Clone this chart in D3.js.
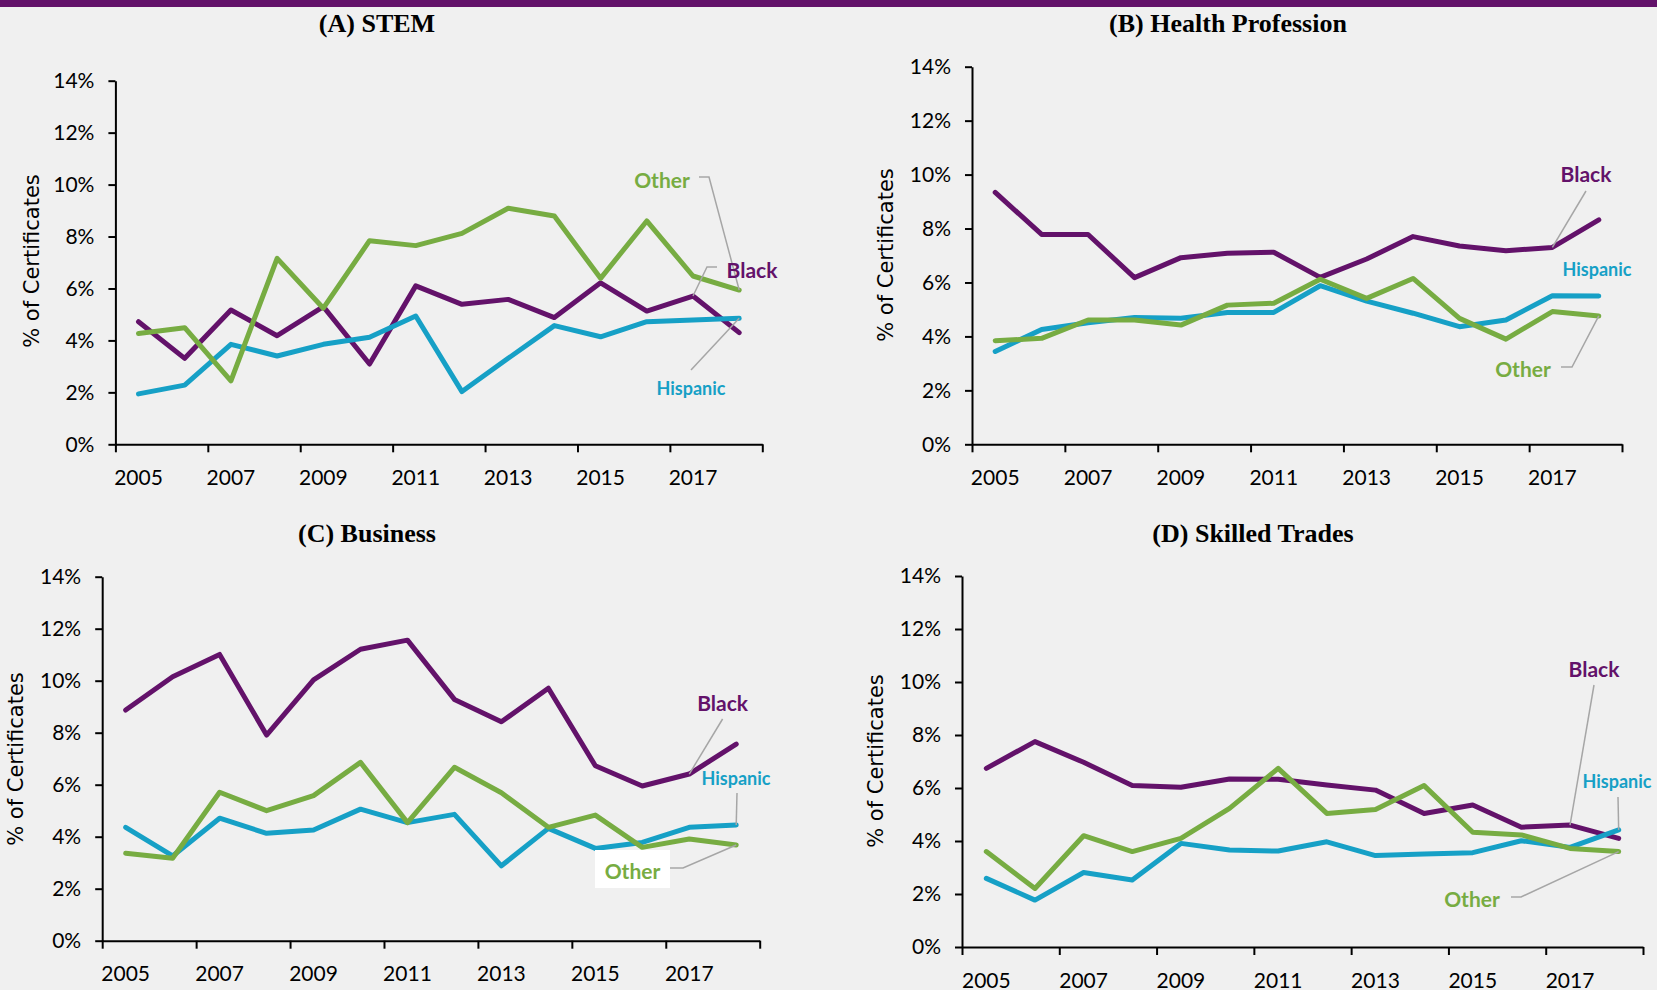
<!DOCTYPE html>
<html>
<head>
<meta charset="utf-8">
<script src="https://cdn.jsdelivr.net/npm/d3@7/dist/d3.min.js"></script>
<style>
  html, body { margin: 0; padding: 0; background: #F0F0F0; }
  svg { display: block; }
</style>
</head>
<body>
<svg id="chart" width="1657" height="990"></svg>
<script>
// ---------------- DATA ----------------
const years = [2005, 2006, 2007, 2008, 2009, 2010, 2011, 2012, 2013, 2014, 2015, 2016, 2017, 2018];
const yearLabels = [2005, 2007, 2009, 2011, 2013, 2015, 2017];
const yTicks = [0, 2, 4, 6, 8, 10, 12, 14];
const seriesNames = ["Black", "Hispanic", "Other"];
const panelTitles = ["(A) STEM", "(B) Health Profession", "(C) Business", "(D) Skilled Trades"];

const stemBlack    = [4.72, 3.31, 5.17, 4.18, 5.30, 3.09, 6.10, 5.39, 5.58, 4.88, 6.22, 5.13, 5.71, 4.30];
const stemHispanic = [1.94, 2.28, 3.85, 3.40, 3.85, 4.12, 4.94, 2.03, 3.31, 4.57, 4.14, 4.72, 4.79, 4.85];
const stemOther    = [4.27, 4.49, 2.44, 7.16, 5.24, 7.84, 7.65, 8.12, 9.09, 8.79, 6.39, 8.60, 6.48, 5.94];

const healthBlack    = [9.34, 7.78, 7.78, 6.18, 6.92, 7.08, 7.12, 6.19, 6.87, 7.70, 7.35, 7.18, 7.30, 8.32];
const healthHispanic = [3.44, 4.26, 4.51, 4.70, 4.67, 4.89, 4.89, 5.88, 5.31, 4.86, 4.36, 4.61, 5.51, 5.50];
const healthOther    = [3.84, 3.93, 4.61, 4.61, 4.42, 5.16, 5.23, 6.12, 5.41, 6.15, 4.67, 3.90, 4.92, 4.76];

const businessBlack    = [8.87, 10.15, 11.01, 7.91, 10.03, 11.21, 11.56, 9.28, 8.42, 9.71, 6.73, 5.95, 6.41, 7.56];
const businessHispanic = [4.36, 3.26, 4.71, 4.13, 4.26, 5.06, 4.54, 4.86, 2.88, 4.32, 3.55, 3.78, 4.36, 4.45];
const businessOther    = [3.36, 3.17, 5.71, 5.00, 5.58, 6.86, 4.54, 6.67, 5.69, 4.36, 4.83, 3.59, 3.91, 3.68];

const tradesBlack    = [6.74, 7.75, 6.97, 6.09, 6.03, 6.34, 6.33, 6.11, 5.92, 5.04, 5.36, 4.52, 4.60, 4.10];
const tradesHispanic = [2.59, 1.77, 2.81, 2.53, 3.91, 3.66, 3.62, 3.97, 3.45, 3.51, 3.56, 4.01, 3.76, 4.42];
const tradesOther    = [3.60, 2.21, 4.20, 3.60, 4.10, 5.23, 6.74, 5.04, 5.19, 6.09, 4.33, 4.23, 3.72, 3.60];

// ---------------- STYLE / LAYOUT ----------------
const colors = { Black: "#63126A", Hispanic: "#16A0C6", Other: "#77AC42" };
const tickFont = "Lato, 'Open Sans', sans-serif";
const labelFont = "Lato, 'Open Sans', sans-serif";

const panels = [
  { title: panelTitles[0], data: { Black: stemBlack, Hispanic: stemHispanic, Other: stemOther },
    x0: 115.4, x1: 762.3, yTop: 80.7, yBot: 444.3, titleXY: [377, 23], yLabXY: [32, 261], xLabY: 476,
    labels: [
      { s: "Other", at: [662, 179], leader: [[699, 177], [709, 177]], to: 13 },
      { s: "Black", at: [752, 269], leader: [[717, 267], [707, 267]], to: 12 },
      { s: "Hispanic", at: [691, 388], leader: [[691, 370]], to: 13 }
    ] },
  { title: panelTitles[1], data: { Black: healthBlack, Hispanic: healthHispanic, Other: healthOther },
    x0: 972, x1: 1622, yTop: 66.7, yBot: 444.3, titleXY: [1228, 23], yLabXY: [886, 255], xLabY: 476,
    labels: [
      { s: "Black", at: [1586, 173], leader: [[1586, 191]], to: 12 },
      { s: "Hispanic", at: [1597, 269], leader: null },
      { s: "Other", at: [1523, 368], leader: [[1561, 367], [1572, 367]], to: 13 }
    ] },
  { title: panelTitles[2], data: { Black: businessBlack, Hispanic: businessHispanic, Other: businessOther },
    x0: 102.2, x1: 759.7, yTop: 576.7, yBot: 940.7, titleXY: [367, 533], yLabXY: [16, 759], xLabY: 972,
    labels: [
      { s: "Black", at: [722.6, 702], leader: [[722.6, 719]], to: 12 },
      { s: "Hispanic", at: [736, 778], leader: [[737, 793]], to: 13 },
      { s: "Other", at: [632.5, 870], leader: [[670, 868], [683, 868]], to: 13, box: [595, 850, 75, 38] }
    ] },
  { title: panelTitles[3], data: { Black: tradesBlack, Hispanic: tradesHispanic, Other: tradesOther },
    x0: 962, x1: 1643, yTop: 576, yBot: 947, titleXY: [1253, 533], yLabXY: [876, 761], xLabY: 979,
    labels: [
      { s: "Black", at: [1594, 668], leader: [[1594, 685]], to: 12 },
      { s: "Hispanic", at: [1617, 781], leader: [[1618, 797]], to: 13 },
      { s: "Other", at: [1472, 898], leader: [[1511, 897], [1521, 897]], to: 13 }
    ] }
];

const svg = d3.select("#chart");
svg.append("rect").attr("x", 0).attr("y", 0).attr("width", 1657).attr("height", 990).attr("fill", "#F0F0F0");
svg.append("rect").attr("x", 0).attr("y", 0).attr("width", 1657).attr("height", 7).attr("fill", "#63126A");

panels.forEach(p => {
  const g = svg.append("g");
  const xBand = d3.scaleBand().domain(years).range([p.x0, p.x1]).paddingInner(0).paddingOuter(0);
  const xIdx = d3.scaleLinear().domain([0, years.length]).range([p.x0, p.x1]);
  const y = d3.scaleLinear().domain([0, 14]).range([p.yBot, p.yTop]);
  const cx = yr => xBand(yr) + xBand.bandwidth() / 2;

  // title
  g.append("text").attr("x", p.titleXY[0]).attr("y", p.titleXY[1])
    .attr("text-anchor", "middle").attr("dominant-baseline", "central")
    .style("font-family", "'Liberation Serif', 'Times New Roman', serif")
    .style("font-weight", "bold").style("font-size", "26px").attr("fill", "#000")
    .text(p.title);

  // y axis label
  g.append("text")
    .attr("transform", `translate(${p.yLabXY[0]},${p.yLabXY[1]}) rotate(-90)`)
    .attr("text-anchor", "middle").attr("dominant-baseline", "central")
    .style("font-family", "'DejaVu Sans', sans-serif").style("font-size", "21px").attr("fill", "#000")
    .text("% of Certificates");

  // y axis
  const yAx = g.append("g").attr("transform", `translate(${p.x0},0)`)
    .call(d3.axisLeft(y).tickValues(yTicks).tickFormat(d => d + "%").tickSize(7).tickSizeOuter(0).tickPadding(14));
  yAx.select(".domain").attr("stroke", "#000").attr("stroke-width", 2);
  yAx.selectAll(".tick line").attr("stroke", "#000").attr("stroke-width", 2);
  yAx.selectAll(".tick text").style("font-family", tickFont).style("font-size", "21px").attr("fill", "#000");

  // x axis ticks (category boundaries every 2)
  const xAx = g.append("g").attr("transform", `translate(0,${p.yBot})`)
    .call(d3.axisBottom(xIdx).tickValues(d3.range(0, years.length + 1, 2)).tickFormat("").tickSize(8).tickSizeOuter(0));
  xAx.select(".domain").attr("stroke", "#000").attr("stroke-width", 2);
  xAx.selectAll(".tick line").attr("stroke", "#000").attr("stroke-width", 2);

  // x axis labels at category centers
  const xLab = g.append("g").attr("transform", `translate(0,${p.xLabY})`)
    .call(d3.axisBottom(xBand).tickValues(yearLabels).tickSize(0).tickPadding(0));
  xLab.select(".domain").remove();
  xLab.selectAll(".tick text").attr("dy", null).attr("y", 0).attr("dominant-baseline", "central")
    .style("font-family", tickFont).style("font-size", "21px").attr("fill", "#000");

  // lines
  const line = d3.line().x((d, i) => cx(years[i])).y(d => y(d));
  seriesNames.forEach(s => {
    g.append("path").datum(p.data[s]).attr("d", line)
      .attr("fill", "none").attr("stroke", colors[s]).attr("stroke-width", 5)
      .attr("stroke-linejoin", "round").attr("stroke-linecap", "round");
  });

  // labels + leaders
  p.labels.forEach(l => {
    if (l.leader) {
      const pts = l.leader.concat([[cx(years[l.to]), y(p.data[l.s][l.to])]]);
      g.append("path").attr("d", d3.line()(pts)).attr("fill", "none")
        .attr("stroke", "#A6A6A6").attr("stroke-width", 1.5);
    }
    if (l.box) {
      g.append("rect").attr("x", l.box[0]).attr("y", l.box[1]).attr("width", l.box[2]).attr("height", l.box[3]).attr("fill", "#fff");
    }
    g.append("text").attr("x", l.at[0]).attr("y", l.at[1])
      .attr("text-anchor", "middle").attr("dominant-baseline", "central")
      .style("font-family", labelFont).style("font-weight", "bold")
      .style("font-size", l.s === "Hispanic" ? "18px" : "21px")
      .attr("fill", colors[l.s]).text(l.s);
  });
});
</script>
</body>
</html>
